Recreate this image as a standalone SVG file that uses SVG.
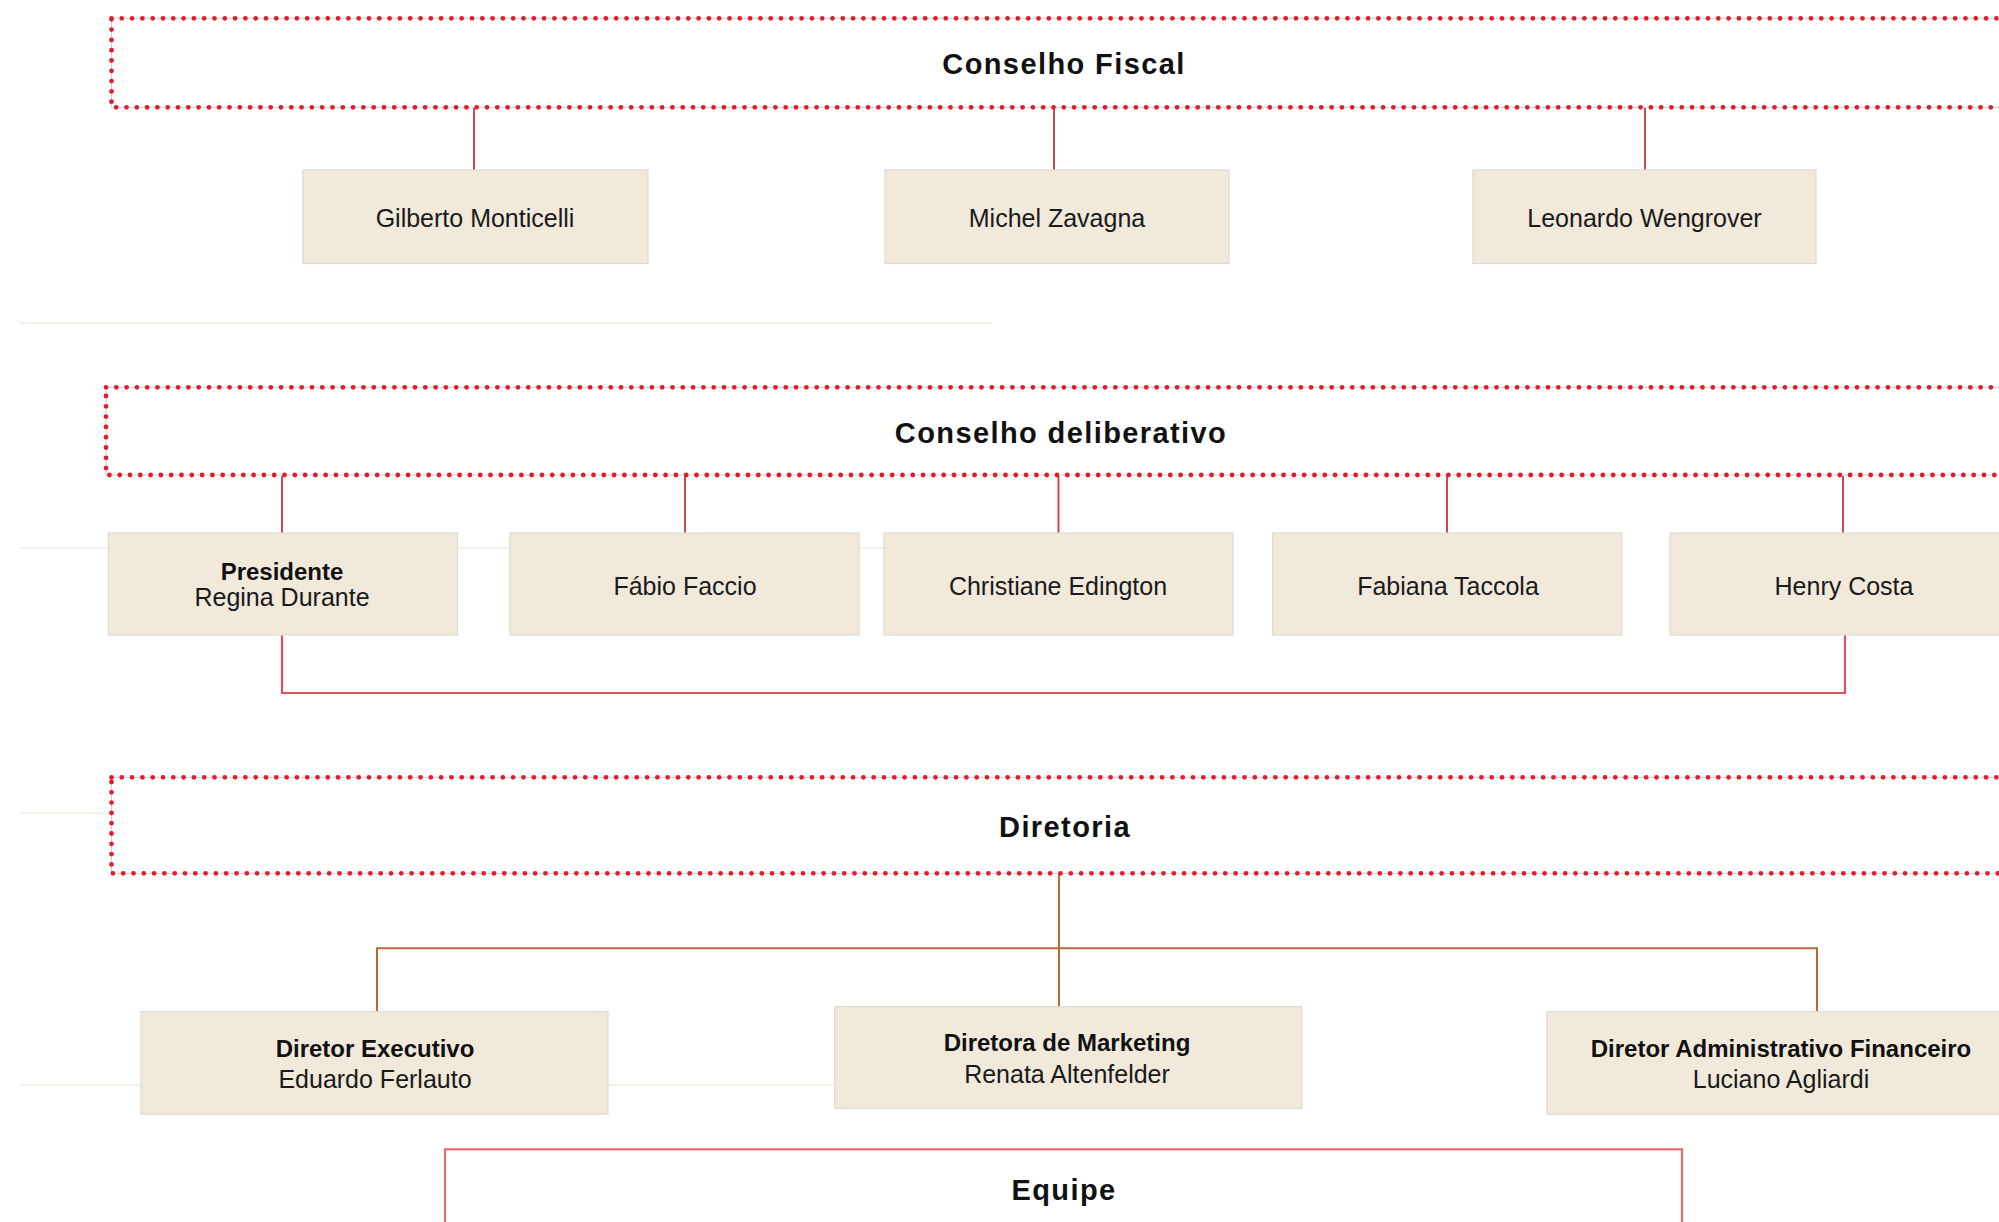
<svg xmlns="http://www.w3.org/2000/svg" width="1999" height="1222" viewBox="0 0 1999 1222">
<style>
.bg{fill:#ffffff}
.guide{stroke:#f1ece2;stroke-width:1.5;fill:none}
.grp-line{stroke:#cfcfcf;stroke-width:1;fill:none}
.grp-dots{stroke:#e31b2b;stroke-width:4.8;stroke-linecap:round;stroke-dasharray:0 10.3;fill:none}
.title{font-family:"Liberation Sans",Arial,sans-serif;font-weight:bold;font-size:29px;letter-spacing:1.4px;fill:#111;text-anchor:middle}
.box{fill:#f1e9da;stroke:#dedad2;stroke-width:1.2}
.name{font-family:"Liberation Sans",Arial,sans-serif;font-size:25px;fill:#1a1a1a;text-anchor:middle}
.role{font-family:"Liberation Sans",Arial,sans-serif;font-size:24px;font-weight:bold;fill:#111;text-anchor:middle}
.red{stroke:#c9343f;stroke-width:1.8;fill:none}
.red2{stroke:#d9525d;stroke-width:2.2;fill:none}
.brown{stroke:#b9693a;stroke-width:2;fill:none}
.equipe{stroke:#e66a74;stroke-width:2.2;fill:none}
</style>
<rect class="bg" x="0" y="0" width="1999" height="1222"/>

<g id="guides">
<line class="guide" x1="20" y1="322.7" x2="992" y2="322.7"/>
<line class="guide" x1="20" y1="548" x2="884" y2="548"/>
<line class="guide" x1="20" y1="813" x2="111" y2="813"/>
<line class="guide" x1="20" y1="1085" x2="834" y2="1085"/>
</g>

<g id="connectors">
<line class="red" x1="474" y1="108" x2="474" y2="170"/>
<line class="red" x1="1054" y1="108" x2="1054" y2="170"/>
<line class="red" x1="1645" y1="108" x2="1645" y2="170"/>
<line class="red" x1="282" y1="476" x2="282" y2="533"/>
<line class="red" x1="685" y1="476" x2="685" y2="533"/>
<line class="red" x1="1058.5" y1="476" x2="1058.5" y2="533"/>
<line class="red" x1="1447" y1="476" x2="1447" y2="533"/>
<line class="red" x1="1843" y1="476" x2="1843" y2="533"/>
<polyline class="red2" points="282,635 282,693 1845,693 1845,635"/>
<line class="brown" x1="1059" y1="874" x2="1059" y2="1007"/>
<polyline class="brown" points="377,1012 377,948.3 1817,948.3 1817,1012"/>
</g>

<g id="conselho-fiscal">
<rect class="grp-line" x="111.5" y="18.3" width="1920" height="89"/>
<rect class="grp-dots" x="111.5" y="18.3" width="1920" height="89"/>
<text class="title" x="1064" y="74">Conselho Fiscal</text>
</g>

<g id="gilberto-monticelli">
<rect class="box" x="303" y="170" width="345" height="93.5"/>
<text class="name" x="475" y="227">Gilberto Monticelli</text>
</g>
<g id="michel-zavagna">
<rect class="box" x="885" y="170" width="344" height="93.5"/>
<text class="name" x="1057" y="227">Michel Zavagna</text>
</g>
<g id="leonardo-wengrover">
<rect class="box" x="1473" y="170" width="343" height="93.5"/>
<text class="name" x="1644.5" y="227">Leonardo Wengrover</text>
</g>

<g id="conselho-deliberativo">
<rect class="grp-line" x="106" y="387.3" width="1920" height="87.7"/>
<rect class="grp-dots" x="106" y="387.3" width="1920" height="87.7"/>
<text class="title" x="1061" y="443">Conselho deliberativo</text>
</g>

<g id="presidente-regina-durante">
<rect class="box" x="108.5" y="533" width="349" height="102"/>
<text class="role" x="282" y="580">Presidente</text>
<text class="name" x="282" y="605.5">Regina Durante</text>
</g>
<g id="fabio-faccio">
<rect class="box" x="510" y="533" width="349" height="102"/>
<text class="name" x="685" y="594.5">Fábio Faccio</text>
</g>
<g id="christiane-edington">
<rect class="box" x="884" y="533" width="349" height="102"/>
<text class="name" x="1058" y="594.5">Christiane Edington</text>
</g>
<g id="fabiana-taccola">
<rect class="box" x="1272.5" y="533" width="349.5" height="102"/>
<text class="name" x="1448" y="594.5">Fabiana Taccola</text>
</g>
<g id="henry-costa">
<rect class="box" x="1670" y="533" width="349" height="102"/>
<text class="name" x="1844" y="594.5">Henry Costa</text>
</g>

<g id="diretoria">
<rect class="grp-line" x="111.5" y="777.3" width="1920" height="96"/>
<rect class="grp-dots" x="111.5" y="777.3" width="1920" height="96"/>
<text class="title" x="1065" y="837.3">Diretoria</text>
</g>

<g id="diretor-executivo">
<rect class="box" x="141" y="1011.7" width="467" height="102.5"/>
<text class="role" x="375" y="1056.5">Diretor Executivo</text>
<text class="name" x="375" y="1088">Eduardo Ferlauto</text>
</g>
<g id="diretora-de-marketing">
<rect class="box" x="834.7" y="1006.7" width="467.3" height="101.6"/>
<text class="role" x="1067" y="1050.5">Diretora de Marketing</text>
<text class="name" x="1067" y="1082.7">Renata Altenfelder</text>
</g>
<g id="diretor-administrativo-financeiro">
<rect class="box" x="1547" y="1011.7" width="468" height="102.5"/>
<text class="role" x="1781" y="1056.5">Diretor Administrativo Financeiro</text>
<text class="name" x="1781" y="1088">Luciano Agliardi</text>
</g>

<g id="equipe">
<rect class="equipe" x="445" y="1149.3" width="1237" height="120"/>
<text class="title" x="1064" y="1200">Equipe</text>
</g>
</svg>
